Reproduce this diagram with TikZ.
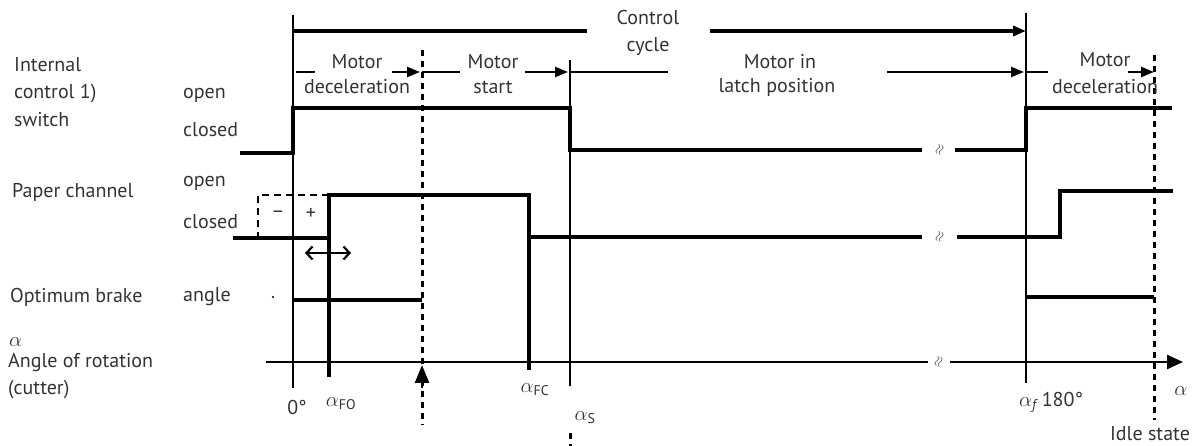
\documentclass[tikz,border=0pt]{standalone}
\usepackage{fontspec}
\setmainfont{PT Sans}
\usetikzlibrary{arrows.meta}
\begin{document}
\begin{tikzpicture}[x=1pt,y=-1pt,
  sig/.style={line width=3.5pt, line join=miter},
  ref/.style={line width=2.2pt},
  lbl/.style={font=\fontsize{20}{24}\selectfont, inner sep=0pt, text=black!80},
  sub/.style={font=\fontsize{20}{24}\selectfont, inner sep=0pt, text=black!80},
  tip/.style={-{Triangle[length=13pt,width=10pt]}},
  dsh/.style={line width=3pt, dash pattern=on 6pt off 5pt},
  brk/.style={inner sep=0pt, font=\fontsize{15}{15}\selectfont, rotate=70, text=black!70},
]
\useasboundingbox (0,0) rectangle (1200,446);

% reference verticals
\coordinate (z0t) at (293,15);   \coordinate (z0b) at (293,388);
\coordinate (st) at (570,60);    \coordinate (sb) at (570,386);
\coordinate (ft) at (1026,13);   \coordinate (fb) at (1026,383);
\coordinate (dt) at (422,50);    \coordinate (db) at (422,425);
\coordinate (it) at (1154,55);   \coordinate (ib) at (1154,420);
\draw[ref] (z0t) -- (z0b);
\draw[ref] (st) -- (sb);
\draw[ref] (ft) -- (fb);
\draw[dsh] (dt) -- (db);
\draw[dsh] (it) -- (ib);
\coordinate (s2t) at (570,433); \coordinate (s2b) at (570,446);
\draw[dsh] (s2t) -- (s2b);

% control cycle
\node[lbl] (cc1) at (648,18) {Control};
\node[lbl] (cc2) at (648,47) {cycle};
\coordinate (ca) at (293,31); \coordinate (cb) at (587,31);
\coordinate (cc) at (710,31); \coordinate (cd) at (1026,31);
\draw[sig] (ca) -- (cb);
\draw[sig,tip] (cc) -- (cd);

% phase arrows
\node[lbl] (md1) at (357,62) {Motor};
\node[lbl] (md2) at (357,87) {deceleration};
\node[lbl] (ms1) at (493,62) {Motor};
\node[lbl] (ms2) at (493,87) {start};
\node[lbl] (ml1) at (780,62) {Motor in};
\node[lbl] (ml2) at (777,87) {latch position};
\node[lbl] (me1) at (1105,60) {Motor};
\node[lbl] (me2) at (1105,87) {deceleration};
\draw[ref] (296,72) -- (315,72);
\draw[ref,tip] (392,72) -- (420,72);
\draw[ref] (422,72) -- (460,72);
\draw[ref,tip] (525,72) -- (568,72);
\draw[ref] (570,72) -- (668,72);
\draw[ref,tip] (887,72) -- (1024,72);
\draw[ref] (1026,72) -- (1048,72);
\draw[ref,tip] (1128,72) -- (1154,72);

% left labels
\node[lbl,anchor=west] (l1) at (14,65) {Internal};
\node[lbl,anchor=west] (l2) at (14,94) {control 1)};
\node[lbl,anchor=west] (l3) at (14,120) {switch};
\node[lbl,anchor=west] (o1) at (183,95) {open};
\node[lbl,anchor=west] (c1) at (183,130) {closed};
\node[lbl,anchor=west] (p1) at (12,192) {Paper channel};
\node[lbl,anchor=west] (o2) at (183,183) {open};
\node[lbl,anchor=west] (c2) at (183,222) {closed};
\node[lbl,anchor=west] (b1) at (10,297) {Optimum brake};
\node[lbl,anchor=west] (b2) at (183,297) {angle};
\node[sub,anchor=west] (a0) at (9,342) {$\alpha$};
\node[lbl,anchor=west] (a1) at (8,363) {Angle of rotation};
\node[lbl,anchor=west] (a2) at (8,390) {(cutter)};

% internal control switch
\draw[sig] (240,153) -- (293,153) -- (293,108) -- (570,108) -- (570,150) -- (922,150);
\node[brk] (k1) at (940,150) {$\approx$};
\draw[sig] (955,150) -- (1026,150) -- (1026,108) -- (1172,108);

% paper channel
\draw[sig] (233,238) -- (329,238) -- (329,195) -- (529,195) -- (529,237) -- (922,237);
\node[brk] (k2) at (940,237) {$\approx$};
\draw[sig] (957,237) -- (1060,237) -- (1060,191) -- (1173,191);
\draw[sig] (329,238) -- (329,377);
\draw[sig] (529,237) -- (529,370);
\draw[line width=1.6pt, dash pattern=on 7pt off 5pt] (329,195) -- (258,195) -- (258,238);
\node[lbl] (mi) at (278,214) {–};
\node[lbl] (pl) at (311,214) {+};
\draw[line width=2.2pt,{Straight Barb[length=6pt,width=13pt]}-{Straight Barb[length=6pt,width=13pt]}] (305,253) -- (351,253);

% optimum brake angle
\fill (273,297) circle (1.2pt);
\draw[sig] (293,300) -- (422,300);
\draw[sig] (1026,297) -- (1154,297);

% axis
\coordinate (ax0) at (266,362); \coordinate (ax1) at (928,362);
\coordinate (ax2) at (950,362); \coordinate (ax3) at (1183,362);
\draw[line width=2.5pt] (ax0) -- (ax1);
\node[brk] (k3) at (939,362) {$\approx$};
\draw[line width=2.5pt,-{Triangle[length=16pt,width=14pt]}] (ax2) -- (ax3);
\coordinate (ua) at (422,388); \coordinate (ub) at (422,365);
\draw[line width=2.5pt,-{Triangle[length=18pt,width=14pt]}] (ua) -- (ub);

% axis labels
\node[lbl] (t0) at (297,407) {0°};
\node[lbl] (tfo) at (341,404) {$\alpha$\textsubscript{FO}};
\node[lbl] (tfc) at (535,390) {$\alpha$\textsubscript{FC}};
\node[lbl] (ts) at (585,418) {$\alpha$\textsubscript{S}};
\node[lbl] (tf) at (1051,402) {$\alpha$\textsubscript{\itshape f} 180°};
\node[sub] (ta) at (1181,391) {$\alpha$};
\node[lbl] (ti) at (1150,434) {Idle state};
\end{tikzpicture}
\end{document}
